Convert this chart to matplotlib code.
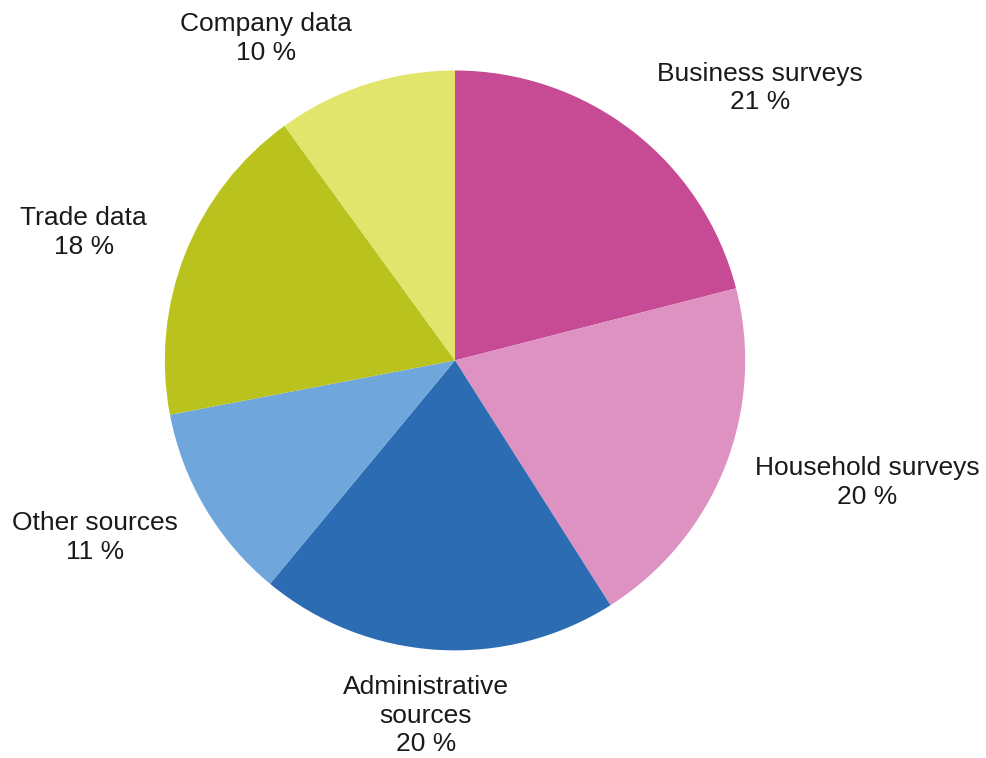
import matplotlib.pyplot as plt

plt.rcParams["font.family"] = ["Liberation Sans", "DejaVu Sans"]

# share of data sources, clockwise from 12 o'clock
sources = ["Business surveys", "Household surveys", "Administrative\nsources",
           "Other sources", "Trade data", "Company data"]
shares = [21, 20, 20, 11, 18, 10]
colors = ["#C64B94", "#DE92C1", "#2B6CB2", "#6FA6DC", "#BAC21E", "#E1E56C"]

# label anchor points in pie-radius units
label_pos = [(1.05, 0.94), (1.42, -0.42), (-0.10, -1.225),
             (-1.24, -0.61), (-1.28, 0.44), (-0.65, 1.11)]

fig = plt.figure(figsize=(9.87, 7.58), dpi=100)
ax = fig.add_axes([0.167, 0.142, 0.588, 0.765])
ax.pie(shares, colors=colors, startangle=90, counterclock=False,
       wedgeprops=dict(linewidth=0))
ax.set_xlim(-1, 1)
ax.set_ylim(-1, 1)
ax.set_aspect("auto")

for name, val, (x, y) in zip(sources, shares, label_pos):
    ax.text(x, y, f"{name}\n{val} %", ha="center", va="center",
            fontsize=19, color="#1a1a1a", linespacing=1.25, clip_on=False)

fig.savefig("out.png", dpi=100)
